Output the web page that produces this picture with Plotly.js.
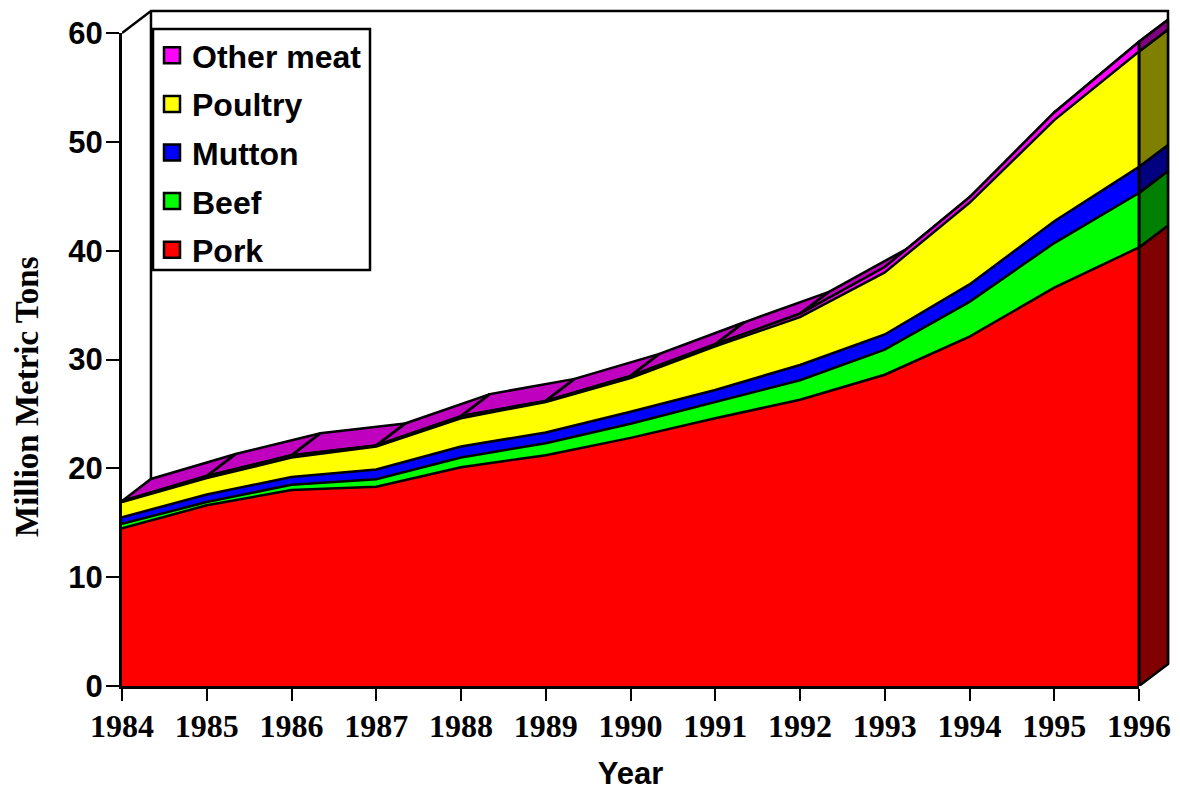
<!DOCTYPE html>
<html>
<head>
<meta charset="utf-8">
<script src="https://cdn.plot.ly/plotly-3.0.1.min.js"></script>
<style>html,body{margin:0;padding:0;background:#fff}</style>
</head>
<body>
<div id="chart" style="width:1180px;height:795px"></div>
<script>
var years   = [1984,1985,1986,1987,1988,1989,1990,1991,1992,1993,1994,1995,1996];
var pork    = [14.5,16.6,18.0,18.3,20.1,21.2,22.8,24.6,26.3,28.6,32.1,36.6,40.3];
var beef    = [0.4,0.3,0.5,0.7,0.9,1.1,1.3,1.5,1.8,2.3,3.2,4.1,5.0];
var mutton  = [0.6,0.7,0.7,0.9,1.0,1.0,1.1,1.1,1.4,1.4,1.6,2.0,2.4];
var poultry = [1.4,1.5,1.8,2.1,2.6,2.8,3.1,4.0,4.4,5.7,7.5,9.3,10.6];
var other   = [0.1,0.2,0.2,0.1,0.2,0.1,0.2,0.2,0.3,0.5,0.5,0.7,0.9];

var names  = ['Pork','Beef','Mutton','Poultry','Other meat'];
var layers = [pork,beef,mutton,poultry,other];
var faceColors = ['#FF0000','#00FF00','#0000FF','#FFFF00','#FF00FF'];
var sideColors = ['#800000','#008000','#000080','#808000','#800080'];
var topColor = '#BF00BF';
var depthX = 0.342, depthY = 2.02;
var yMax = 60, lineW = 2.5;
var sansBold = '"Liberation Sans", Arial, sans-serif';
var serifBold = '"Liberation Serif", "Times New Roman", serif';

var tops = [], run = years.map(function(){return 0;});
layers.forEach(function(l){
  run = run.map(function(v,i){return v+l[i];});
  tops.push(run);
});
var last = years.length-1, lastYear = years[last], firstYear = years[0];
var blackLine = {color:'#000',width:lineW};
var traces = [];

// back wall frame
traces.push({x:[firstYear,firstYear+depthX,lastYear+depthX,lastYear+depthX],
  y:[yMax,yMax+depthY,yMax+depthY,depthY],
  mode:'lines',line:blackLine,showlegend:false,hoverinfo:'skip'});
traces.push({x:[firstYear+depthX,firstYear+depthX],y:[yMax+depthY,tops[4][0]+depthY],
  mode:'lines',line:blackLine,showlegend:false,hoverinfo:'skip'});

// top surface of the stack
var tx=[],ty=[],oth=tops[4];
for(var i=0;i<last;i++){
  tx.push(years[i],years[i+1],years[i+1]+depthX,years[i]+depthX,years[i],null);
  ty.push(oth[i],oth[i+1],oth[i+1]+depthY,oth[i]+depthY,oth[i],null);
}
traces.push({x:tx,y:ty,mode:'lines',fill:'toself',fillcolor:topColor,line:blackLine,
  showlegend:false,hoverinfo:'skip'});

// right side panels
layers.forEach(function(l,k){
  var lo = k===0 ? 0 : tops[k-1][last], hi = tops[k][last];
  traces.push({x:[lastYear,lastYear+depthX,lastYear+depthX,lastYear,lastYear],
    y:[lo,lo+depthY,hi+depthY,hi,lo],
    mode:'lines',fill:'toself',fillcolor:sideColors[k],line:blackLine,
    showlegend:false,hoverinfo:'skip'});
});

// stacked front faces
layers.forEach(function(l,k){
  traces.push({x:years,y:l,name:names[k],mode:'lines',stackgroup:'meat',
    fillcolor:faceColors[k],line:{color:'#000',width:lineW},showlegend:false});
});

// front right edge
traces.push({x:[lastYear,lastYear],y:[0,oth[last]],mode:'lines',
  line:{color:'#000',width:3},showlegend:false,hoverinfo:'skip'});

// legend entries, on the subplot that carries the visible axes
for(var k=layers.length-1;k>=0;k--){
  traces.push({x:[null],y:[null],xaxis:'x2',yaxis:'y2',name:names[k],mode:'markers',
    legendgroup:names[k],
    marker:{symbol:'square',size:16,color:faceColors[k],line:{color:'#000',width:2.5}},
    hoverinfo:'skip'});
}

// plot frame in pixels: front face 122..1139 x 33..686, frame leaves room for the depth
var plotW = 1051, plotH = 680, frontW = 1017, frontH = 653;

var layout = {
  width:1180,height:795,
  margin:{l:122,r:1180-122-plotW,t:795-109-plotH,b:109,pad:0},
  paper_bgcolor:'#fff',plot_bgcolor:'rgba(0,0,0,0)',
  showlegend:true,
  legend:{x:30/plotW,y:658/plotH,xanchor:'left',yanchor:'top',bgcolor:'rgba(0,0,0,0)',
    borderwidth:0,traceorder:'grouped',tracegroupgap:4,
    font:{family:sansBold,size:32,color:'#000',weight:700}},
  shapes:[{type:'rect',layer:'above',xref:'paper',yref:'paper',
    x0:31/plotW,x1:248/plotW,y0:416/plotH,y1:657/plotH,
    fillcolor:'#fff',line:{color:'#000',width:2.5}}],
  xaxis:{range:[firstYear,firstYear+(lastYear-firstYear)*plotW/frontW],domain:[0,1],
    visible:false,fixedrange:true},
  yaxis:{range:[0,yMax*plotH/frontH],domain:[0,1],visible:false,fixedrange:true},
  xaxis2:{anchor:'y2',domain:[0,frontW/plotW],range:[firstYear,lastYear],tickmode:'array',
    tickvals:years,ticktext:years.map(String),
    showgrid:false,zeroline:false,showline:true,linecolor:'#000',linewidth:2.5,
    ticks:'outside',ticklen:12,tickwidth:2,tickcolor:'#000',ticklabelstandoff:-2,
    tickfont:{family:serifBold,size:32,color:'#000',weight:700},
    title:{text:'Year',standoff:20,font:{family:sansBold,size:31,color:'#000',weight:700}}},
  yaxis2:{anchor:'x2',domain:[0,frontH/plotH],range:[0,yMax],tickmode:'array',
    tickvals:[0,10,20,30,40,50,60],
    showgrid:false,zeroline:false,showline:true,linecolor:'#000',linewidth:3,
    ticks:'outside',ticklen:13,tickwidth:2,tickcolor:'#000',ticklabelstandoff:-3,
    tickfont:{family:sansBold,size:31,color:'#000',weight:700}},
  annotations:[{text:'Million Metric Tons',xref:'paper',yref:'paper',
    x:-95/plotW,y:289/plotH,xanchor:'center',yanchor:'middle',textangle:-90,showarrow:false,
    font:{family:serifBold,size:33,color:'#000',weight:700}}],
  hovermode:false
};
Plotly.newPlot('chart',traces,layout,{displayModeBar:false,staticPlot:true});
</script>
</body>
</html>
